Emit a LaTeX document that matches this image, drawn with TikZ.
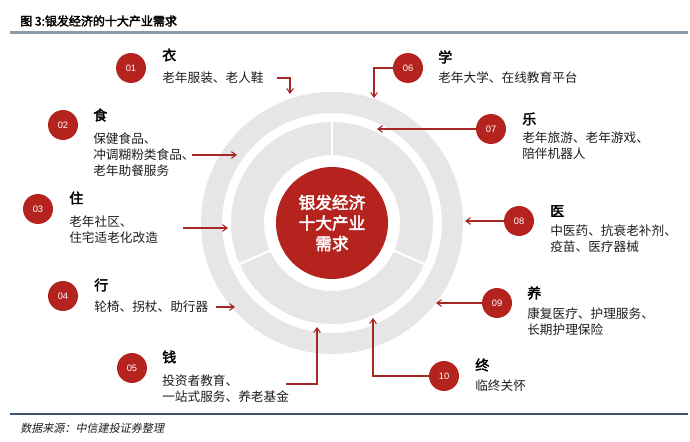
\documentclass[tikz,border=0pt]{standalone}
\usepackage{fontspec}
\usetikzlibrary{arrows.meta}
\setmainfont{Liberation Sans}
\newfontfamily\cjk{Noto Sans CJK SC}
\newfontfamily\cjkb{Noto Sans CJK SC}[FakeBold=2.5]
\newfontfamily\cjki{Noto Sans CJK SC}[FakeSlant=0.2]
\definecolor{brick}{RGB}{180,35,30}
\definecolor{ringgrey}{RGB}{230,230,230}
\definecolor{arrowred}{RGB}{165,40,36}
\definecolor{bodytext}{RGB}{30,30,30}
\definecolor{ruleblue}{RGB}{140,155,170}
\definecolor{footrule}{RGB}{60,85,110}
\begin{document}
\begin{tikzpicture}[x=0.75pt,y=-0.75pt,
  numdot/.style={circle,fill=brick,minimum size=22.5pt,inner sep=0pt,text=white,font=\fontsize{7}{8}\selectfont},
  headtxt/.style={anchor=west,inner sep=0pt,font=\cjkb\fontsize{10.5}{12}\selectfont,text=black},
  bodytxt/.style={anchor=west,inner sep=0pt,align=left,font=\cjk\fontsize{9.5}{12}\selectfont,text=bodytext},
  link/.style={draw=arrowred,line width=0.8pt,-{Straight Barb[length=3.5pt,width=5pt]}},
  divider/.style={white,line width=1.6pt},
]
\useasboundingbox[fill=white] (0,0) rectangle (690,442);

% title and rules
\node[anchor=west,inner sep=0pt,font=\cjkb\fontsize{9}{10}\selectfont] (title) at (20,21) {图 3:银发经济的十大产业需求};
\draw[ruleblue,line width=1.8pt] (10,32.5) -- (688,32.5);
\draw[footrule,line width=1pt] (10,414) -- (688,414);
\node[anchor=west,inner sep=0pt,font=\cjki\fontsize{8.3}{10}\selectfont,text=bodytext] (src) at (20,428) {数据来源：中信建投证券整理};

% rings
\fill[ringgrey,even odd rule] (332,223) circle (131) circle (110);
\fill[ringgrey,even odd rule] (332,223) circle (101) circle (68);
\draw[divider] (332,223) ++(-90:67) -- ++(-90:35);
\draw[divider] (332,223) ++(156:67) -- ++(156:35);
\draw[divider] (332,223) ++(24:67) -- ++(24:35);
\node[circle,fill=brick,minimum size=84pt,inner sep=0pt,text=white,align=center,font=\cjkb\fontsize{12.5}{15.4}\selectfont] (core) at (332,223) {银发经济\\十大产业\\需求};

% 01
\node[numdot] (c1) at (131,68) {01};
\node[headtxt] (h1) at (162,55) {衣};
\node[bodytxt] (t1) at (162,78) {老年服装、老人鞋};
\coordinate (s1) at (277,78); \coordinate (e1) at (290,94);
\draw[link] (s1) -| (e1);

% 02
\node[numdot] (c2) at (63,125) {02};
\node[headtxt] (h2) at (93,115) {食};
\node[bodytxt] (t2) at (93,155) {保健食品、\\冲调糊粉类食品、\\老年助餐服务};
\coordinate (s2) at (192,155); \coordinate (e2) at (237,155);
\draw[link] (s2) -- (e2);

% 03
\node[numdot] (c3) at (38,209) {03};
\node[headtxt] (h3) at (69,198) {住};
\node[bodytxt] (t3) at (69,230) {老年社区、\\住宅适老化改造};
\coordinate (s3) at (183,228); \coordinate (e3) at (228,228);
\draw[link] (s3) -- (e3);

% 04
\node[numdot] (c4) at (63,296) {04};
\node[headtxt] (h4) at (94,285) {行};
\node[bodytxt] (t4) at (94,307) {轮椅、拐杖、助行器};
\coordinate (s4) at (216,307); \coordinate (e4) at (235,307);
\draw[link] (s4) -- (e4);

% 05
\node[numdot] (c5) at (132,368) {05};
\node[headtxt] (h5) at (162,357) {钱};
\node[bodytxt] (t5) at (162,388.5) {投资者教育、\\一站式服务、养老基金};
\coordinate (s5) at (286,384); \coordinate (e5) at (317,327);
\draw[link] (s5) -| (e5);

% 06
\node[numdot] (c6) at (408,68) {06};
\node[headtxt] (h6) at (438,57) {学};
\node[bodytxt] (t6) at (438,78) {老年大学、在线教育平台};
\coordinate (e6) at (374,98);
\draw[link] (c6.west) -| (e6);

% 07
\node[numdot] (c7) at (491,129) {07};
\node[headtxt] (h7) at (522,119) {乐};
\node[bodytxt] (t7) at (522,146) {老年旅游、老年游戏、\\陪伴机器人};
\coordinate (e7) at (377,129);
\draw[link] (c7.west) -- (e7);

% 08
\node[numdot] (c8) at (519,221) {08};
\node[headtxt] (h8) at (550,211) {医};
\node[bodytxt] (t8) at (550,238.5) {中医药、抗衰老补剂、\\疫苗、医疗器械};
\coordinate (e8) at (465,221);
\draw[link] (c8.west) -- (e8);

% 09
\node[numdot] (c9) at (497,303) {09};
\node[headtxt] (h9) at (527,293) {养};
\node[bodytxt] (t9) at (527,321.5) {康复医疗、护理服务、\\长期护理保险};
\coordinate (e9) at (436,303);
\draw[link] (c9.west) -- (e9);

% 10
\node[numdot] (c10) at (444,376) {10};
\node[headtxt] (h10) at (475,365) {终};
\node[bodytxt] (t10) at (475,386) {临终关怀};
\coordinate (e10) at (373,318);
\draw[link] (c10.west) -| (e10);
\end{tikzpicture}
\end{document}
